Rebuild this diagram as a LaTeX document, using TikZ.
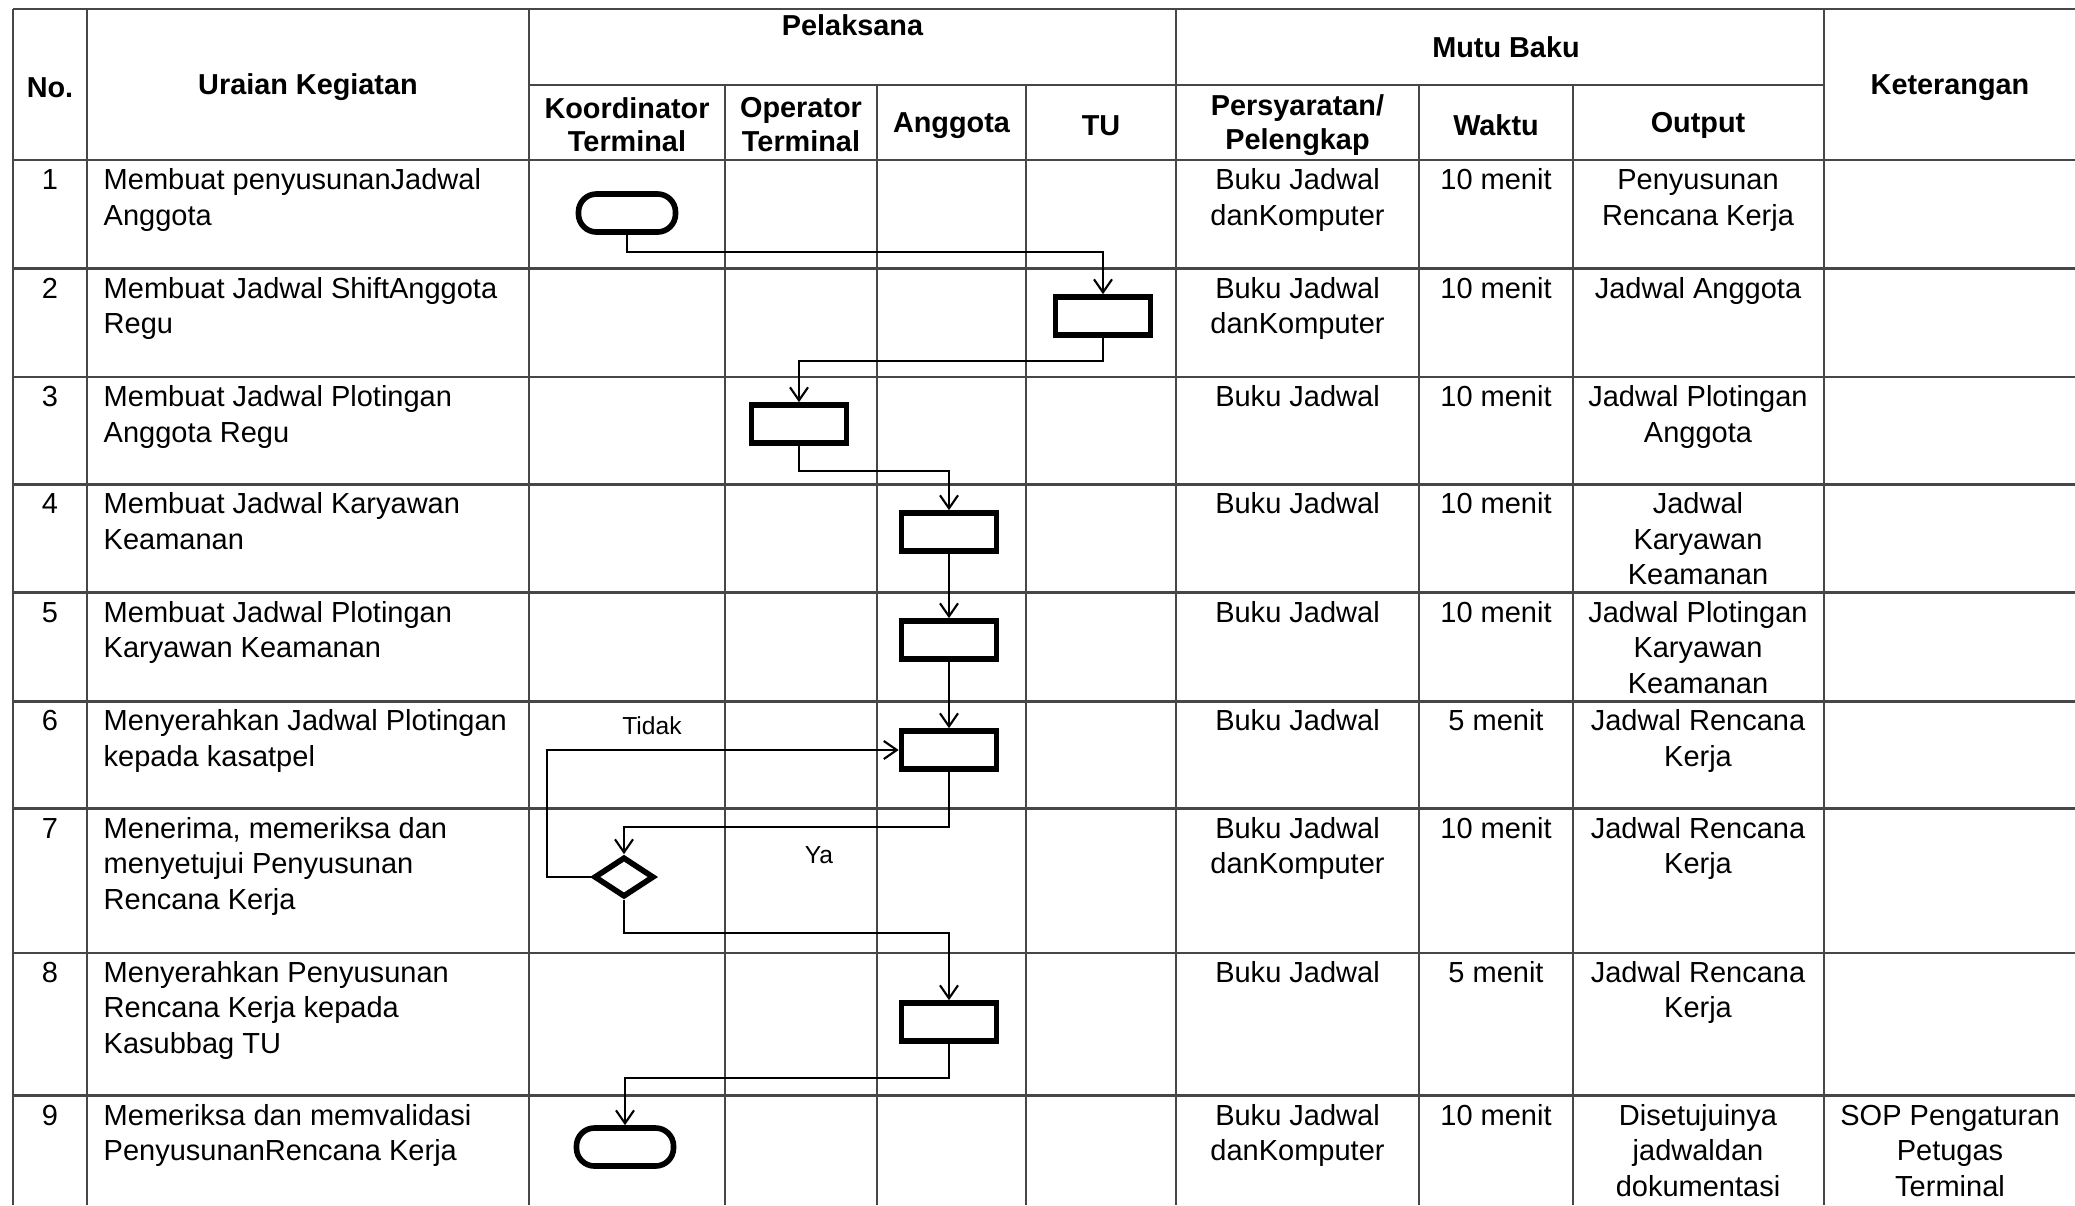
\documentclass[tikz,border=0pt]{standalone}
\usepackage{fontspec}
\setmainfont{Liberation Sans}
\usetikzlibrary{shapes.geometric,arrows.meta}
\begin{document}
\begin{tikzpicture}[x=0.01cm,y=-0.01cm,
  grid/.style={line width=0.75pt,draw=black!72},
  body/.style={font=\fontsize{8.25}{10.1}\selectfont,inner sep=0pt},
  hd/.style={font=\fontsize{8.2}{9.5}\selectfont\bfseries,inner sep=0pt,align=center},
  cell/.style={body,anchor=north,align=center},
  desc/.style={body,anchor=north west,align=left},
  lbl/.style={font=\fontsize{7}{8}\selectfont,inner sep=0pt},
  proc/.style={draw,line width=1.6pt,minimum width=0.95cm,minimum height=0.38cm,inner sep=0pt},
  term/.style={draw,line width=1.6pt,minimum width=0.97cm,minimum height=0.38cm,rounded corners=0.18cm,inner sep=0pt},
  dec/.style={draw,diamond,line width=1.6pt,minimum width=0.6cm,minimum height=0.4cm,inner sep=0pt,aspect=1.5},
  flow/.style={line width=0.6pt,-{Straight Barb[length=1.3mm,width=1.8mm]}},
]
\useasboundingbox (0,0) rectangle (2075,1205);
% ---------- grid ----------
\draw[grid] (13,9) -- (2075,9);
\draw[grid] (529,85) -- (1824,85);
\foreach \yy in {160,268.6,377.1,484.3,592.8,701.4,808.5,952.8,1095.7}
  \draw[grid] (13,\yy) -- (2075,\yy);
\foreach \xx in {13,87,529,1176,1824}
  \draw[grid] (\xx,9) -- (\xx,1205);
\foreach \xx in {725,877,1026,1419,1573}
  \draw[grid] (\xx,85) -- (\xx,1205);
% ---------- header ----------
\node[hd] (hNo) at (50,87.5) {No.};
\node[hd] (hUr) at (308,87.5) {Uraian Kegiatan};
\node[hd,anchor=north] (hPel) at (852.5,11) {\strut Pelaksana};
\node[hd] (hMutu) at (1506,47) {Mutu Baku};
\node[hd] (hKet) at (1950,87.5) {Keterangan};
\node[hd] (hKoor) at (627,124.5) {Koordinator\\Terminal};
\node[hd] (hOp) at (801,124.5) {Operator\\Terminal};
\node[hd] (hAng) at (951.5,125.5) {Anggota};
\node[hd] (hTU) at (1101,125.5) {TU};
\node[hd] (hPers) at (1297.5,125) {Persyaratan/\\Pelengkap};
\node[hd] (hWak) at (1496,125.5) {Waktu};
\node[hd] (hOut) at (1698,125.5) {Output};
% ---------- rows ----------
% row 1
\node[cell] (n1) at (50,164) {\strut 1};
\node[desc] (u1) at (103,164) {\strut Membuat penyusunanJadwal\\Anggota};
\node[cell] (p1) at (1297.5,164) {\strut Buku Jadwal\\danKomputer};
\node[cell] (w1) at (1496,164) {\strut 10 menit};
\node[cell] (o1) at (1698,164) {\strut Penyusunan\\Rencana Kerja};
% row 2
\node[cell] (n2) at (50,272.6) {\strut 2};
\node[desc] (u2) at (103,272.6) {\strut Membuat Jadwal ShiftAnggota\\Regu};
\node[cell] (p2) at (1297.5,272.6) {\strut Buku Jadwal\\danKomputer};
\node[cell] (w2) at (1496,272.6) {\strut 10 menit};
\node[cell] (o2) at (1698,272.6) {\strut Jadwal Anggota};
% row 3
\node[cell] (n3) at (50,381.1) {\strut 3};
\node[desc] (u3) at (103,381.1) {\strut Membuat Jadwal Plotingan\\Anggota Regu};
\node[cell] (p3) at (1297.5,381.1) {\strut Buku Jadwal};
\node[cell] (w3) at (1496,381.1) {\strut 10 menit};
\node[cell] (o3) at (1698,381.1) {\strut Jadwal Plotingan\\Anggota};
% row 4
\node[cell] (n4) at (50,488.3) {\strut 4};
\node[desc] (u4) at (103,488.3) {\strut Membuat Jadwal Karyawan\\Keamanan};
\node[cell] (p4) at (1297.5,488.3) {\strut Buku Jadwal};
\node[cell] (w4) at (1496,488.3) {\strut 10 menit};
\node[cell] (o4) at (1698,488.3) {\strut Jadwal\\Karyawan\\Keamanan};
% row 5
\node[cell] (n5) at (50,596.8) {\strut 5};
\node[desc] (u5) at (103,596.8) {\strut Membuat Jadwal Plotingan\\Karyawan Keamanan};
\node[cell] (p5) at (1297.5,596.8) {\strut Buku Jadwal};
\node[cell] (w5) at (1496,596.8) {\strut 10 menit};
\node[cell] (o5) at (1698,596.8) {\strut Jadwal Plotingan\\Karyawan\\Keamanan};
% row 6
\node[cell] (n6) at (50,705.4) {\strut 6};
\node[desc] (u6) at (103,705.4) {\strut Menyerahkan Jadwal Plotingan\\kepada kasatpel};
\node[cell] (p6) at (1297.5,705.4) {\strut Buku Jadwal};
\node[cell] (w6) at (1496,705.4) {\strut 5 menit};
\node[cell] (o6) at (1698,705.4) {\strut Jadwal Rencana\\Kerja};
% row 7
\node[cell] (n7) at (50,812.5) {\strut 7};
\node[desc] (u7) at (103,812.5) {\strut Menerima, memeriksa dan\\menyetujui Penyusunan\\Rencana Kerja};
\node[cell] (p7) at (1297.5,812.5) {\strut Buku Jadwal\\danKomputer};
\node[cell] (w7) at (1496,812.5) {\strut 10 menit};
\node[cell] (o7) at (1698,812.5) {\strut Jadwal Rencana\\Kerja};
% row 8
\node[cell] (n8) at (50,956.8) {\strut 8};
\node[desc] (u8) at (103,956.8) {\strut Menyerahkan Penyusunan\\Rencana Kerja kepada\\Kasubbag TU};
\node[cell] (p8) at (1297.5,956.8) {\strut Buku Jadwal};
\node[cell] (w8) at (1496,956.8) {\strut 5 menit};
\node[cell] (o8) at (1698,956.8) {\strut Jadwal Rencana\\Kerja};
% row 9
\node[cell] (n9) at (50,1099.7) {\strut 9};
\node[desc] (u9) at (103,1099.7) {\strut Memeriksa dan memvalidasi\\PenyusunanRencana Kerja};
\node[cell] (p9) at (1297.5,1099.7) {\strut Buku Jadwal\\danKomputer};
\node[cell] (w9) at (1496,1099.7) {\strut 10 menit};
\node[cell] (o9) at (1698,1099.7) {\strut Disetujuinya\\jadwaldan\\dokumentasi};
\node[cell] (k9) at (1950,1099.7) {\strut SOP Pengaturan\\Petugas\\Terminal};
% ---------- flow shapes ----------
\node[term] (s1) at (627,213) {};
\node[proc] (r2) at (1103,316) {};
\node[proc] (r3) at (799,424) {};
\node[proc] (r4) at (949,532) {};
\node[proc] (r5) at (949,640) {};
\node[proc] (r6) at (949,750) {};
\node[dec] (d7) at (624,877) {};
\node[proc] (r8) at (949,1022) {};
\node[term] (s9) at (625,1147) {};
% ---------- connectors ----------
\draw[flow] (s1.south) -- ++(0,17) -| (r2.north);
\draw[flow] (r2.south) -- ++(0,23) -| (r3.north);
\draw[flow] (r3.south) -- ++(0,25) -| (r4.north);
\draw[flow] (r4.south) -- (r5.north);
\draw[flow] (r5.south) -- (r6.north);
\draw[flow] (r6.south) -- ++(0,55) -| (d7.north);
\draw[flow] (d7.west) -- ++(-44,0) |- (r6.west);
\draw[flow] (d7.south) -- ++(0,33) -| (r8.north);
\draw[flow] (r8.south) -- ++(0,34) -| (s9.north);
\node[lbl] (tidak) at (652,726) {Tidak};
\node[lbl] (ya) at (819,855) {Ya};
\end{tikzpicture}
\end{document}
